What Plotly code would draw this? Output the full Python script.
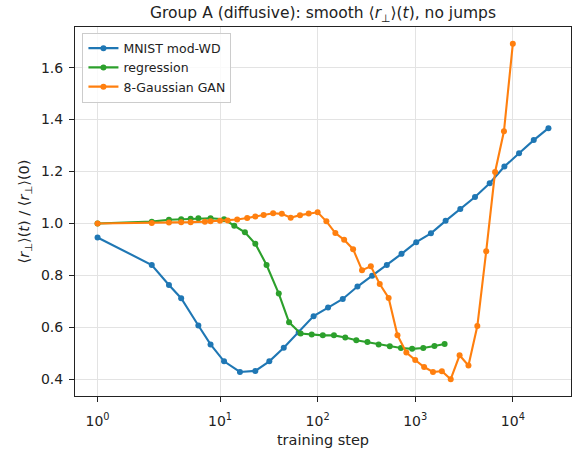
import numpy as np
import plotly.graph_objects as go

# Training steps and normalised transverse radius <r_perp>(t)/<r_perp>(0)
steps_mnist = [1, 2, 3, 4, 6, 8, 11, 16, 23, 32, 45, 64, 91, 128, 181, 256, 362,
               512, 724, 1024, 1448, 2048, 2896, 4096, 5793, 8192, 11585, 16384, 23170]
ratio_mnist = [0.946, 0.840, 0.763, 0.712, 0.607, 0.534, 0.469, 0.428, 0.432, 0.469,
               0.521, 0.580, 0.643, 0.676, 0.709, 0.757, 0.799, 0.840, 0.883, 0.928,
               0.962, 1.010, 1.056, 1.102, 1.155, 1.219, 1.270, 1.321, 1.367]

steps_reg = [1, 2, 3, 4, 5, 6, 8, 11, 14, 18, 23, 30, 40, 51, 67, 87, 113, 147, 192,
             249, 324, 422, 549, 714, 929, 1209, 1573, 2000]
ratio_reg = [1.000, 1.007, 1.014, 1.016, 1.018, 1.020, 1.020, 1.016, 0.991, 0.966,
             0.922, 0.840, 0.730, 0.619, 0.576, 0.572, 0.569, 0.569, 0.561, 0.550,
             0.543, 0.534, 0.527, 0.520, 0.517, 0.520, 0.528, 0.536]

steps_gan = [1, 2, 3, 4, 5, 7, 8, 10, 12, 15, 19, 23, 28, 35, 43, 53, 66, 81, 100, 123,
             152, 187, 231, 285, 351, 433, 534, 658, 811, 1000, 1233, 1520, 1874, 2310,
             2848, 3511, 4329, 5337, 6579, 8111, 10000]
ratio_gan = [1.000, 1.002, 1.004, 1.005, 1.005, 1.007, 1.008, 1.010, 1.011, 1.015,
             1.021, 1.027, 1.033, 1.039, 1.037, 1.022, 1.032, 1.038, 1.043, 1.008,
             0.963, 0.937, 0.901, 0.820, 0.835, 0.767, 0.713, 0.569, 0.503, 0.474,
             0.447, 0.428, 0.431, 0.400, 0.492, 0.453, 0.605, 0.893, 1.198, 1.355, 1.692]

series_names = ["MNIST mod-WD", "regression", "8-Gaussian GAN"]
series_colors = ["#1f77b4", "#2ca02c", "#ff7f0e"]

x_tick_values = [1, 10, 100, 1000, 10000]
x_tick_labels = ["10<sup>0</sup>", "10<sup>1</sup>", "10<sup>2</sup>", "10<sup>3</sup>", "10<sup>4</sup>"]
y_tick_values = [0.4, 0.6, 0.8, 1.0, 1.2, 1.4, 1.6]


def symlog(x, linthresh=2.0, linscale=1.0, base=10.0):
    """Symmetric-log transform: linear within +-linthresh, logarithmic outside."""
    x = np.asarray(x, dtype=float)
    adj = linscale / (1.0 - 1.0 / base)
    ax = np.abs(x)
    with np.errstate(divide="ignore", invalid="ignore"):
        logpart = np.sign(x) * linthresh * (adj + np.log(ax / linthresh) / np.log(base))
    return np.where(ax <= linthresh, x * adj, logpart)


series = [(steps_mnist, ratio_mnist), (steps_reg, ratio_reg), (steps_gan, ratio_gan)]

fig = go.Figure()
for (steps, ratio), name, color in zip(series, series_names, series_colors):
    fig.add_trace(go.Scatter(
        x=symlog(steps), y=ratio, customdata=steps, name=name,
        mode="lines+markers",
        line=dict(color=color, width=2.1),
        marker=dict(color=color, size=6),
        hovertemplate="step %{customdata}<br>%{y:.3f}<extra>" + name + "</extra>",
    ))

# autoscale with 5% padding on the transformed data
all_t = np.concatenate([symlog(s) for s, _ in series])
all_y = np.concatenate([r for _, r in series])
tpad = 0.05 * (all_t.max() - all_t.min())
ypad = 0.05 * (all_y.max() - all_y.min())
x_range = [all_t.min() - tpad, all_t.max() + tpad]
y_range = [all_y.min() - ypad, all_y.max() + ypad]

font_family = "DejaVu Sans"
axis_common = dict(
    showline=True, linecolor="#222222", linewidth=1, mirror=True,
    ticks="outside", ticklen=5, tickwidth=1, tickcolor="#222222",
    showgrid=True, gridcolor="#e3e3e3", gridwidth=1,
    zeroline=False, tickfont=dict(family=font_family, size=14, color="#222222"),
)

fig.update_layout(
    width=575, height=452,
    margin=dict(l=75, r=4, t=27, b=56),
    paper_bgcolor="white", plot_bgcolor="white",
    font=dict(family=font_family, color="#222222"),
    title=dict(
        text="Group A (diffusive): smooth ⟨<i>r</i><sub>⊥</sub>⟩(<i>t</i>), no jumps",
        x=0.5, xref="paper", y=1 - 13 / 452, yref="container",
        xanchor="center", yanchor="middle",
        font=dict(family=font_family, size=15.5, color="#222222"),
    ),
    xaxis=dict(
        axis_common, range=x_range, tickmode="array",
        tickvals=symlog(x_tick_values), ticktext=x_tick_labels,
        ticklabelstandoff=7,
        title=dict(text="training step", standoff=7,
                   font=dict(family=font_family, size=14.5, color="#222222")),
    ),
    yaxis=dict(
        axis_common, range=y_range, tickmode="array",
        tickvals=y_tick_values, ticktext=[f"{v:.1f}" for v in y_tick_values],
        ticklabelstandoff=3,
        title=dict(text="⟨<i>r</i><sub>⊥</sub>⟩(<i>t</i>) / ⟨<i>r</i><sub>⊥</sub>⟩(0)",
                   standoff=7,
                   font=dict(family=font_family, size=14.5, color="#222222")),
    ),
    legend=dict(
        x=0.015, y=0.985, xanchor="left", yanchor="top",
        bgcolor="rgba(255,255,255,0.8)", bordercolor="#cccccc", borderwidth=1,
        font=dict(family=font_family, size=12.5, color="#222222"),
        itemwidth=30, tracegroupgap=0,
    ),
    showlegend=True,
)

fig.write_html("out.html")
